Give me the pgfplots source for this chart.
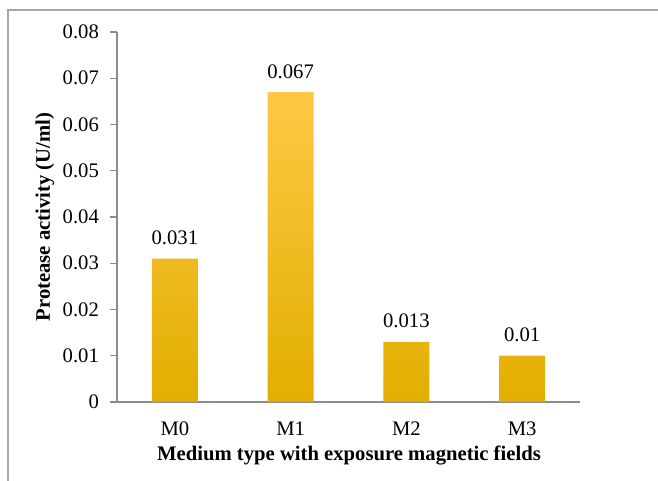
\documentclass[border=0pt]{standalone}
\usepackage{pgfplots}
\pgfplotsset{compat=1.18}
\usepackage{fontspec}
\setmainfont{Liberation Serif}

\definecolor{axgray}{HTML}{8C8C8C}
\definecolor{boxgray}{HTML}{A6A6A6}
\definecolor{bartop}{HTML}{FFC845}
\definecolor{barmid}{HTML}{FFC000}
\definecolor{barbot}{HTML}{E2AE00}

\newcommand{\chfont}{\fontsize{15.5}{18}\selectfont}

\begin{document}
\chfont
\begin{tikzpicture}[x=0.75pt,y=0.75pt]
\begin{axis}[
    scale only axis,
    width=347.25pt, height=277.5pt,
    xmin=-0.5, xmax=3.5,
    ymin=0, ymax=0.08,
    ytick={0,0.01,...,0.08},
    yticklabels={0,0.01,0.02,0.03,0.04,0.05,0.06,0.07,0.08},
    scaled y ticks=false,
    xtick={0,1,2,3},
    xticklabels={M0,M1,M2,M3},
    minor xtick={-0.5,0.5,1.5,2.5,3.5},
    axis x line*=bottom, axis y line*=left,
    axis line style={axgray, line width=0.8pt},
    every tick/.style={axgray, line width=0.8pt},
    tick align=outside,
    major tick length=5.25pt,
    x tick style={draw=none},
    minor tick length=4pt,
    minor x tick style={axgray, line width=0.8pt},
    /pgf/number format/assume math mode=true,
    tick label style={font=\chfont},
    yticklabel style={xshift=-3pt},
    xticklabel style={yshift=-4pt},
    ybar, bar width=34.5pt,
    nodes near coords={\pgfplotspointmeta},
    point meta=explicit symbolic,
    every node near coord/.append style={font=\chfont, yshift=5pt},
    clip=false,
]
\addplot[draw=none, top color=bartop, middle color=barmid, bottom color=barbot]
  coordinates {(0,0.031)[0.031] (1,0.067)[0.067] (2,0.013)[0.013] (3,0.010)[0.01]};
\coordinate (O) at (rel axis cs:0,0);
\end{axis}

% page frame and axis titles, placed in pixels from the axis corner
\pgfresetboundingbox
\begin{scope}[shift={(O)}]
\path[use as bounding box] (-117,-79) rectangle (541,402);
\draw[boxgray, line width=0.9pt] (-109,-79) -- (-109,392) -- (541,392);
\node[rotate=90, font=\bfseries\chfont] at (-72,185) {Protease activity (U/ml)};
\node[font=\bfseries\chfont] at (232,-54) {Medium type with exposure magnetic fields};
\end{scope}
\end{tikzpicture}
\end{document}
